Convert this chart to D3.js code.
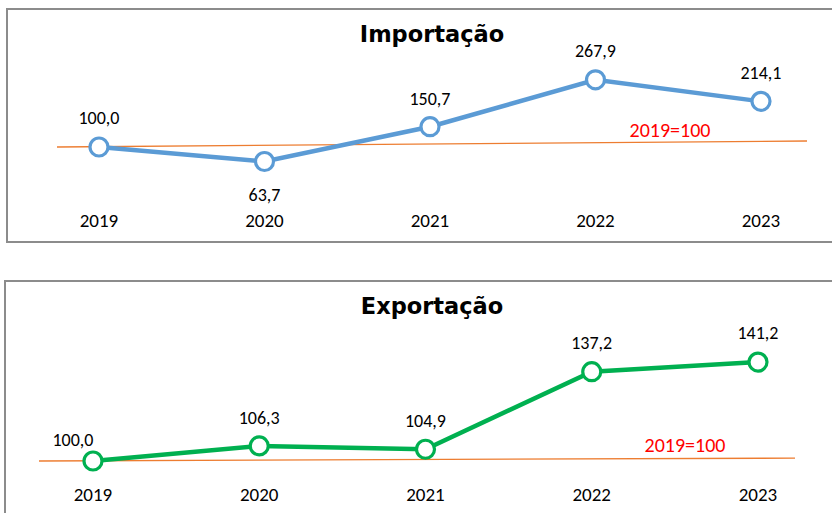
<!DOCTYPE html>
<html>
<head>
<meta charset="utf-8">
<script src="https://cdn.jsdelivr.net/npm/d3@7"></script>
<style>
  body { margin: 0; background: #fff; }
  svg { display: block; font-family: Carlito, "Liberation Sans", Arial, sans-serif; }
</style>
</head>
<body>
<svg id="chart" width="832" height="513"></svg>
<script>
// data
const years = ["2019", "2020", "2021", "2022", "2023"];
const importValues = [100.0, 63.7, 150.7, 267.9, 214.1];
const exportValues = [100.0, 106.3, 104.9, 137.2, 141.2];
// the hand-drawn base line (2019=100) is slightly tilted in the original
const importBaseLine = [100, 115];
const exportBaseLine = [100, 101.2];
const baseLabel = "2019=100";

const svg = d3.select("#chart");
const fmt = v => d3.format(".1f")(v).replace(".", ",");

function drawPanel(cfg) {
  const g = svg.append("g");

  g.append("rect")
    .attr("x", cfg.box[0]).attr("y", cfg.box[1])
    .attr("width", cfg.box[2]).attr("height", cfg.box[3])
    .attr("fill", "#fff").attr("stroke", "#8c8c8c").attr("stroke-width", 2);

  const x = d3.scalePoint().domain(years).range(cfg.xRange);
  const y = d3.scaleLinear().domain(cfg.yDomain).range(cfg.yRange);

  g.append("text")
    .attr("x", cfg.titleX).attr("y", cfg.titleY)
    .attr("text-anchor", "middle")
    .attr("font-family", "'DejaVu Sans', Verdana, sans-serif")
    .attr("font-size", 22.5).attr("font-weight", "bold")
    .text(cfg.title);

  // base line
  g.append("line")
    .attr("x1", cfg.baseX[0]).attr("x2", cfg.baseX[1])
    .attr("y1", y(cfg.base[0])).attr("y2", y(cfg.base[1]))
    .attr("stroke", "#ed7d31").attr("stroke-width", 1.3);

  g.append("text")
    .attr("x", cfg.baseLabelX).attr("y", cfg.baseLabelY)
    .attr("text-anchor", "middle")
    .attr("font-size", 20).attr("fill", "#ff0000")
    .text(baseLabel);

  const line = d3.line()
    .x((d, i) => x(years[i]))
    .y(d => y(d));

  g.append("path")
    .attr("d", line(cfg.values))
    .attr("fill", "none")
    .attr("stroke", cfg.color)
    .attr("stroke-width", 4.5);

  g.selectAll("circle.pt")
    .data(cfg.values)
    .join("circle")
    .attr("class", "pt")
    .attr("cx", (d, i) => x(years[i]))
    .attr("cy", d => y(d))
    .attr("r", 9)
    .attr("fill", "#fff")
    .attr("stroke", cfg.color)
    .attr("stroke-width", 3.2);

  g.selectAll("text.val")
    .data(cfg.values)
    .join("text")
    .attr("class", "val")
    .attr("x", (d, i) => x(years[i]) + (cfg.labelDx[i] || 0))
    .attr("y", (d, i) => y(d) + cfg.labelDy[i])
    .attr("text-anchor", "middle")
    .attr("dominant-baseline", "central")
    .attr("font-size", 18)
    .attr("fill", "#000")
    .text(d => fmt(d));

  g.selectAll("text.yr")
    .data(years)
    .join("text")
    .attr("class", "yr")
    .attr("x", d => x(d))
    .attr("y", cfg.yearY)
    .attr("text-anchor", "middle")
    .attr("dominant-baseline", "central")
    .attr("font-size", 19)
    .text(d => d);
}

drawPanel({
  title: "Importação",
  values: importValues,
  base: importBaseLine,
  color: "#5b9bd5",
  box: [7, 9, 840, 233],
  xRange: [99, 761],
  yDomain: [0, 300],
  yRange: [187, 67],
  titleX: 432, titleY: 42,
  baseX: [57, 807],
  baseLabelX: 670, baseLabelY: 137,
  labelDx: [0, 0, 0, 0, 0],
  labelDy: [-29, 33, -28, -29, -28],
  yearY: 220
});

drawPanel({
  title: "Exportação",
  values: exportValues,
  base: exportBaseLine,
  color: "#00b050",
  box: [5, 281, 840, 250],
  xRange: [93, 758],
  yDomain: [90, 150],
  yRange: [485, 341],
  titleX: 432, titleY: 314,
  baseX: [39, 795],
  baseLabelX: 685, baseLabelY: 452,
  labelDx: [-20, 0, 0, 0, 0],
  labelDy: [-21, -28, -28, -29, -29],
  yearY: 494
});
</script>
</body>
</html>
